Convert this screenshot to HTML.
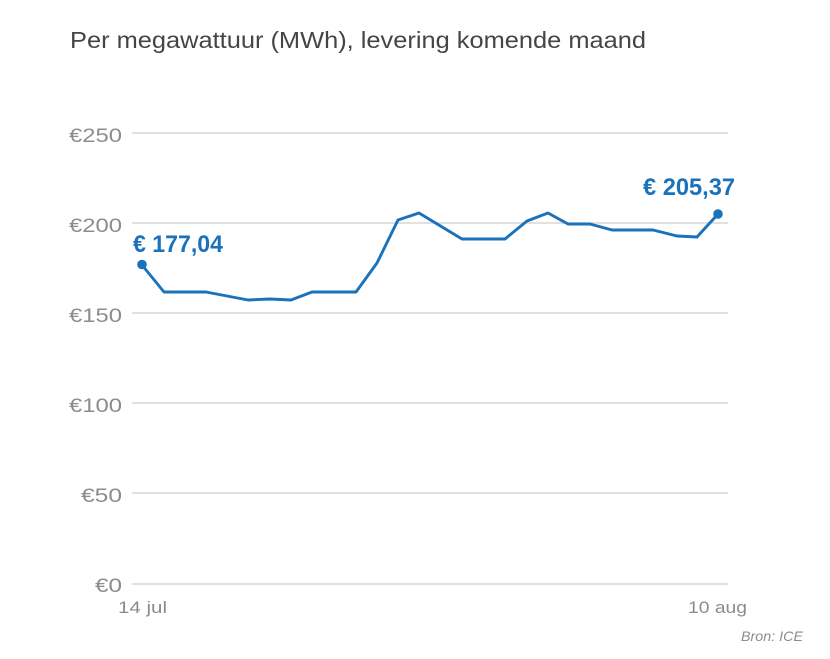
<!DOCTYPE html>
<html>
<head>
<meta charset="utf-8">
<style>
  html, body { margin: 0; padding: 0; background: #ffffff; }
  body { width: 830px; height: 659px; overflow: hidden; }
  svg { display: block; }
</style>
</head>
<body>
<svg width="830" height="659" viewBox="0 0 830 659" xmlns="http://www.w3.org/2000/svg" font-family="Liberation Sans, Arial, sans-serif">
  <rect width="830" height="659" fill="#ffffff"/>
  <!-- title -->
  <text x="70" y="48" font-size="23" fill="#454545" textLength="576" lengthAdjust="spacingAndGlyphs">Per megawattuur (MWh), levering komende maand</text>

  <!-- gridlines -->
  <g stroke="#cfcfcf" stroke-width="1.2">
    <line x1="132" y1="133" x2="728" y2="133"/>
    <line x1="132" y1="223" x2="728" y2="223"/>
    <line x1="132" y1="313" x2="728" y2="313"/>
    <line x1="132" y1="403" x2="728" y2="403"/>
    <line x1="132" y1="493" x2="728" y2="493"/>
    <line x1="132" y1="584" x2="728" y2="584"/>
  </g>

  <!-- y labels -->
  <g font-size="19" fill="#8c8c8c" text-anchor="end">
    <text x="122" y="142" textLength="53" lengthAdjust="spacingAndGlyphs">€250</text>
    <text x="122" y="232" textLength="53" lengthAdjust="spacingAndGlyphs">€200</text>
    <text x="122" y="322" textLength="53" lengthAdjust="spacingAndGlyphs">€150</text>
    <text x="122" y="412" textLength="53" lengthAdjust="spacingAndGlyphs">€100</text>
    <text x="122" y="502" textLength="41" lengthAdjust="spacingAndGlyphs">€50</text>
    <text x="122" y="592" textLength="27" lengthAdjust="spacingAndGlyphs">€0</text>
  </g>

  <!-- x labels -->
  <g font-size="17" fill="#8c8c8c">
    <text x="118" y="613" textLength="49" lengthAdjust="spacingAndGlyphs">14 jul</text>
    <text x="688" y="613" textLength="59" lengthAdjust="spacingAndGlyphs">10 aug</text>
  </g>
  <text x="741" y="641" font-size="14" font-style="italic" fill="#8c8c8c" textLength="62" lengthAdjust="spacingAndGlyphs">Bron: ICE</text>

  <!-- series -->
  <polyline fill="none" stroke="#1a72bb" stroke-width="2.9" stroke-linejoin="round" stroke-linecap="round"
    points="142,265 164,292 206,292 248,300 270,299 291,300 312,292 356,292 377,263 398,220 419,213 462,239 505,239 527,221 548,213 568,224 590,224 612,230 653,230 677,236 697,237 718,214"/>
  <circle cx="142" cy="264.5" r="4.8" fill="#1a72bb"/>
  <circle cx="718" cy="214" r="4.8" fill="#1a72bb"/>

  <!-- annotations -->
  <text x="133" y="252" font-size="24" font-weight="bold" fill="#1a72bb" textLength="90" lengthAdjust="spacingAndGlyphs">€ 177,04</text>
  <text x="643" y="195" font-size="24" font-weight="bold" fill="#1a72bb" textLength="92" lengthAdjust="spacingAndGlyphs">€ 205,37</text>
</svg>
</body>
</html>
